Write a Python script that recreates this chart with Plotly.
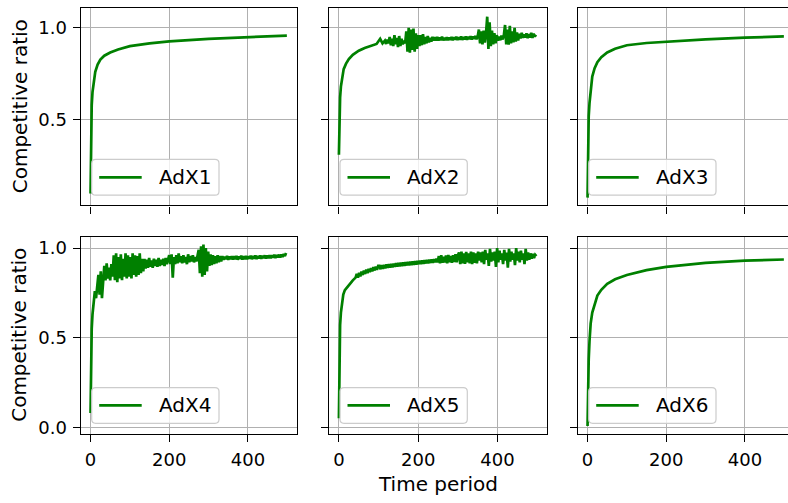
import numpy as np
import plotly.graph_objects as go

names = ["AdX1", "AdX2", "AdX3", "AdX4", "AdX5", "AdX6"]

# smooth curves, sampled at these time periods
t_smooth = [0, 1, 2, 3, 5, 8, 12, 18, 25, 35, 50, 70, 100, 150, 200, 300, 400, 499]
adx1 = [0.10, 0.35, 0.50, 0.58, 0.65, 0.71, 0.76, 0.80, 0.827, 0.848, 0.865, 0.882,
        0.90, 0.915, 0.926, 0.94, 0.95, 0.957]
adx3 = [0.077, 0.33, 0.45, 0.52, 0.59, 0.67, 0.735, 0.78, 0.813, 0.84, 0.866, 0.886,
        0.905, 0.917, 0.924, 0.937, 0.946, 0.953]
adx6 = [0.007, 0.18, 0.30, 0.38, 0.48, 0.58, 0.64, 0.69, 0.735, 0.767, 0.80, 0.826,
        0.85, 0.877, 0.895, 0.917, 0.93, 0.936]

# noisy curves: smooth head + noisy tail sampled every 3 periods
adx2_head_t = [0, 1, 2, 3, 5, 8, 12, 18, 25, 35, 50, 65, 80, 95, 104, 110]
adx2_head = [0.31, 0.45, 0.55, 0.62, 0.68, 0.72, 0.775, 0.805, 0.83, 0.853, 0.875,
             0.89, 0.902, 0.912, 0.94, 0.915]
adx2_tail_t = (116, 497)
adx2_tail = [
    0.93, 0.912, 0.935, 0.915,
    0.95, 0.905, 0.94, 0.90, 0.96, 0.91, 0.945, 0.895, 0.955, 0.90, 0.94, 0.91, 0.93, 0.915,
    0.98, 0.87, 1.0, 0.865, 0.99, 0.88, 0.995, 0.87, 0.97, 0.885, 0.96, 0.90,
    0.96, 0.905, 0.965, 0.91, 0.95, 0.915, 0.955, 0.92, 0.945, 0.925, 0.95, 0.93,
    0.948, 0.931, 0.95, 0.93, 0.947, 0.932, 0.951, 0.931, 0.946, 0.933,
    0.949, 0.932, 0.947, 0.934, 0.95, 0.932, 0.948, 0.935, 0.951, 0.933,
    0.949, 0.936, 0.952, 0.934, 0.95, 0.937, 0.953, 0.935, 0.951, 0.938,
    0.954, 0.936, 0.952, 0.939, 0.955, 0.937, 0.953,
    0.99, 0.915, 0.98, 0.91, 0.985, 0.92, 0.97,
    1.06, 0.885, 1.03, 0.90,
    0.985, 0.91, 0.97, 0.915, 0.96, 0.93,
    0.952, 0.932, 0.957, 0.936, 0.96,
    1.015, 0.91, 0.99, 0.908, 1.01, 0.915, 0.98, 0.92, 1.0, 0.925, 0.975, 0.93,
    0.968, 0.942, 0.972, 0.945, 0.964, 0.947, 0.97, 0.943, 0.966, 0.947, 0.972, 0.945,
    0.968, 0.952, 0.962,
]

adx4_head_t = [0, 1, 2, 3, 5, 8]
adx4_head = [0.08, 0.30, 0.45, 0.55, 0.63, 0.70]
adx4_tail_t = (11, 497)
adx4_tail = [
    0.76, 0.72, 0.78,
    0.85, 0.74, 0.87, 0.72, 0.84,
    0.90, 0.82, 0.915, 0.83, 0.89, 0.82, 0.91, 0.84,
    0.96, 0.82, 0.97, 0.81, 0.95, 0.83, 0.965, 0.82, 0.94, 0.84,
    0.97, 0.83, 0.96, 0.84, 0.95, 0.83, 0.97, 0.85, 0.96, 0.84,
    0.955, 0.85, 0.97, 0.86, 0.94, 0.87,
    0.94, 0.885, 0.935, 0.89, 0.945, 0.895, 0.93, 0.89, 0.94, 0.9,
    0.935, 0.895, 0.945, 0.9, 0.935, 0.905, 0.94, 0.9, 0.945, 0.91, 0.935,
    0.96, 0.91, 0.965, 0.834, 0.95, 0.91, 0.96, 0.915, 0.97, 0.92,
    0.955, 0.915, 0.96, 0.92, 0.95, 0.91, 0.965, 0.92, 0.955, 0.925,
    0.96, 0.92, 0.95, 0.925, 0.96,
    0.99, 0.86, 1.01, 0.84, 1.02, 0.85, 1.0, 0.87, 0.98,
    0.90, 0.965, 0.905, 0.96, 0.91, 0.955, 0.915, 0.96, 0.92, 0.955, 0.925,
    0.955, 0.935, 0.952, 0.938, 0.956, 0.934, 0.953, 0.937, 0.955, 0.936,
    0.954, 0.938, 0.956, 0.935, 0.953, 0.939, 0.957, 0.936, 0.954, 0.938,
    0.956, 0.937, 0.955, 0.94, 0.957, 0.938, 0.955, 0.941, 0.958, 0.939,
    0.956, 0.942, 0.958, 0.94, 0.957, 0.943, 0.959, 0.941, 0.958, 0.944,
    0.96, 0.943, 0.959, 0.946, 0.962, 0.945, 0.961, 0.948, 0.963, 0.947,
    0.964, 0.95, 0.966, 0.955, 0.972,
]

adx5_head_t = [0, 1, 2, 3, 5, 8, 11, 15, 20, 28, 35, 42]
adx5_head = [0.05, 0.30, 0.48, 0.57, 0.64, 0.71, 0.74, 0.765, 0.78, 0.80, 0.82, 0.835]
adx5_tail_t = (45, 498)
adx5_tail = [
    0.855, 0.835, 0.862, 0.842, 0.868, 0.85, 0.874, 0.855, 0.88, 0.86,
    0.884, 0.866, 0.888, 0.87, 0.893, 0.875, 0.896, 0.878, 0.9,
    0.9, 0.882, 0.905, 0.884, 0.906, 0.887, 0.908, 0.889, 0.91, 0.891,
    0.912, 0.893, 0.913, 0.895, 0.915, 0.896, 0.917, 0.898, 0.918, 0.9,
    0.92, 0.901, 0.921, 0.903, 0.923, 0.904, 0.924, 0.905, 0.925, 0.907,
    0.927, 0.908, 0.928, 0.91, 0.93, 0.911, 0.931, 0.912, 0.932, 0.914,
    0.934, 0.915, 0.935, 0.917, 0.937, 0.918, 0.938, 0.92, 0.94, 0.921,
    0.955, 0.915, 0.96, 0.918, 0.952, 0.92, 0.958, 0.915, 0.962, 0.92,
    0.955, 0.918, 0.96, 0.922, 0.965, 0.92, 0.96,
    0.975, 0.91, 0.98, 0.915, 0.97, 0.912, 0.978, 0.92, 0.97, 0.915,
    0.98, 0.91, 0.975, 0.918, 0.97, 0.915, 0.98,
    0.93, 0.975, 0.92, 0.98, 0.91, 0.99, 0.935, 0.97, 0.90, 0.995,
    0.925, 0.975, 0.93, 0.98, 0.895, 1.0, 0.92, 0.985, 0.935, 0.97,
    0.91, 0.99, 0.93, 0.975, 0.89, 0.995, 0.925, 0.98, 0.935, 0.97,
    0.905, 1.0, 0.93, 0.98, 0.92, 0.985, 0.935, 0.97, 0.91, 0.995,
    0.93, 0.975, 0.935, 0.97, 0.94, 0.968, 0.945, 0.962, 0.955,
]


def noisy(head_t, head, tail_span, tail):
    tt = np.linspace(tail_span[0], tail_span[1], len(tail))
    return list(head_t) + list(tt), list(head) + list(tail)


series = [
    (t_smooth, adx1),
    noisy(adx2_head_t, adx2_head, adx2_tail_t, adx2_tail),
    (t_smooth, adx3),
    noisy(adx4_head_t, adx4_head, adx4_tail_t, adx4_tail),
    noisy(adx5_head_t, adx5_head, adx5_tail_t, adx5_tail),
    (t_smooth, adx6),
]

W, H = 788, 503
col_px = [(80.7, 296.7), (329.0, 546.7), (577.7, 788.0)]
row_px = [(8.3, 207.0), (239.0, 437.0)]
x_ranges = [[-25, 524], [-25, 524], [-25, 509.5]]
y_ranges = [[0.035, 1.106], [-0.035, 1.061]]
GREEN = "#008000"
FONT = "DejaVu Sans"
LW = 1.3  # frame / tick width


def px(x, y):
    # pixel position -> paper coordinates
    return x / W, 1 - y / H


fig = go.Figure()
layout = dict(
    width=W, height=H, margin=dict(l=0, r=0, t=0, b=0),
    plot_bgcolor="white", paper_bgcolor="white",
    font=dict(family=FONT, color="black", size=18),
    showlegend=False,
)
shapes, ann = [], []

for i, (name, (tx, vy)) in enumerate(zip(names, series)):
    r, c = divmod(i, 3)
    k = "" if i == 0 else str(i + 1)
    fig.add_trace(go.Scatter(
        x=tx, y=vy, mode="lines", name=name,
        line=dict(color=GREEN, width=2.7),
        xaxis="x" + k, yaxis="y" + k,
    ))
    x0, x1 = col_px[c]
    y0, y1 = row_px[r]
    layout["xaxis" + k] = dict(
        domain=[x0 / W, min(x1 / W, 1.0)], anchor="y" + k, range=x_ranges[c],
        tickvals=[0, 200, 400], showticklabels=(r == 1),
        ticks="outside", ticklen=7, tickwidth=LW, tickcolor="black", ticklabelstandoff=3,
        showline=True, linecolor="black", linewidth=LW, mirror=True,
        showgrid=True, gridcolor="#b0b0b0", gridwidth=1.2, zeroline=False,
        tickfont=dict(size=18),
    )
    layout["yaxis" + k] = dict(
        domain=[1 - y1 / H, 1 - y0 / H], anchor="x" + k, range=y_ranges[r],
        tickvals=[0.0, 0.5, 1.0], tickformat=".1f", showticklabels=(c == 0),
        ticks="outside", ticklen=7, tickwidth=LW, tickcolor="black", ticklabelstandoff=2,
        showline=True, linecolor="black", linewidth=LW, mirror=(c < 2),
        showgrid=True, gridcolor="#b0b0b0", gridwidth=1.2, zeroline=False,
        tickfont=dict(size=18),
    )

    # legend box, matplotlib style (rounded frame, line sample, label)
    bl, br = x0 + 11, x0 + 138.3
    bb, bt = y1 - 10.3, y1 - 46.3
    rad = 4
    pts = [
        ("M", bl + rad, bt), ("L", br - rad, bt), ("Q", br, bt, br, bt + rad),
        ("L", br, bb - rad), ("Q", br, bb, br - rad, bb), ("L", bl + rad, bb),
        ("Q", bl, bb, bl, bb - rad), ("L", bl, bt + rad), ("Q", bl, bt, bl + rad, bt),
    ]
    path = ""
    for p in pts:
        cmd, coords = p[0], p[1:]
        xy = []
        for j in range(0, len(coords), 2):
            a, b = px(coords[j], coords[j + 1])
            xy.append(f"{a:.5f},{b:.5f}")
        path += cmd + " ".join(xy) + " "
    shapes.append(dict(type="path", path=path + "Z", xref="paper", yref="paper",
                       fillcolor="rgba(255,255,255,0.8)",
                       line=dict(color="#cccccc", width=1.2), layer="above"))
    ym = (bt + bb) / 2
    lx0, ly = px(bl + 7.5, ym)
    lx1, _ = px(bl + 50, ym)
    shapes.append(dict(type="line", x0=lx0, x1=lx1, y0=ly, y1=ly, xref="paper",
                       yref="paper", line=dict(color=GREEN, width=2.7), layer="above"))
    tx_, ty_ = px(bl + 65, ym)
    ann.append(dict(text=name, x=tx_, y=ty_, xref="paper", yref="paper",
                    showarrow=False, xanchor="left", yanchor="middle",
                    font=dict(size=20)))

fig.update_layout(**layout)

for (y0, y1) in row_px:
    ann.append(dict(text="Competitive ratio", x=19.5 / W, y=1 - (y0 + y1) / 2 / H,
                    xref="paper", yref="paper", showarrow=False, textangle=-90,
                    font=dict(size=20), xanchor="center", yanchor="middle"))
ann.append(dict(text="Time period", x=(col_px[1][0] + col_px[1][1]) / 2 / W, y=1 - 488 / H,
                xref="paper", yref="paper", showarrow=False,
                font=dict(size=20), xanchor="center", yanchor="middle"))
fig.update_layout(annotations=ann, shapes=shapes)

fig.write_html("out.html", config={"displayModeBar": False},
               post_script="document.body.style.margin='0';")
